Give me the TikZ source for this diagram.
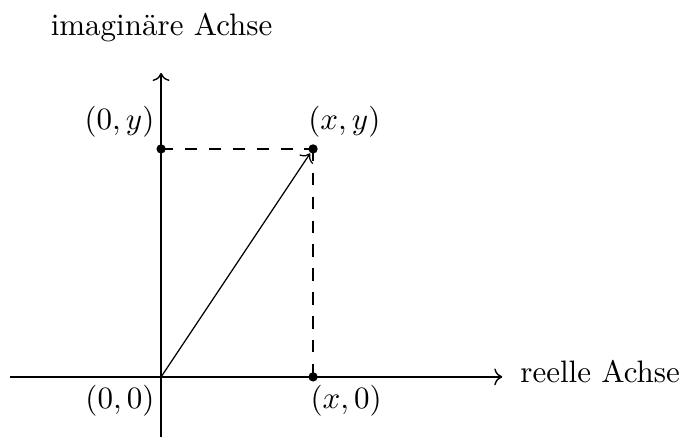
\documentclass[tikz,border=0pt]{standalone}
\usepackage{fontspec}
\usetikzlibrary{arrows.meta,positioning}

\begin{document}
\begin{tikzpicture}[x=24.5pt,y=24.5pt,every node/.style={inner sep=0pt},
  achse/.style={->,line width=.45pt},
  hilfslinie/.style={line width=.45pt,dash pattern=on 4pt off 3.7pt},
  punkt/.style={circle,fill,minimum size=3pt}]
\useasboundingbox (-2.12,-0.92) rectangle (6.855,4.96);
\coordinate (O) at (0,0);
\coordinate (xl) at (-1.99,0);
\coordinate (xr) at (4.49,0);
\coordinate (yu) at (0,-0.79);
\coordinate (yo) at (0,4.0);
\node[punkt] (P) at (2,3) {};
\node[punkt] (Py) at (0,3) {};
\node[punkt] (Px) at (2,0) {};
\draw[achse] (xl)--(xr);
\draw[achse] (yu)--(yo);
\draw[->,line width=.4pt] (O)--(P);
\draw[hilfslinie] (Py.center)--(P.center);
\draw[hilfslinie] (P.center)--(Px.center);
\node[anchor=base east] (ly) at (-0.08,3.25) {$(0,y)$};
\node[anchor=base west] (lxy) at (1.93,3.25) {$(x,y)$};
\node[anchor=base east] (lo) at (-0.08,-0.42) {$(0,0)$};
\node[anchor=base west] (lx) at (1.96,-0.42) {$(x,0)$};
\node[anchor=base west] (re) at (4.72,-0.08) {reelle Achse};
\node[anchor=base west] (im) at (-1.46,4.49) {imaginäre Achse};
\end{tikzpicture}
\end{document}
